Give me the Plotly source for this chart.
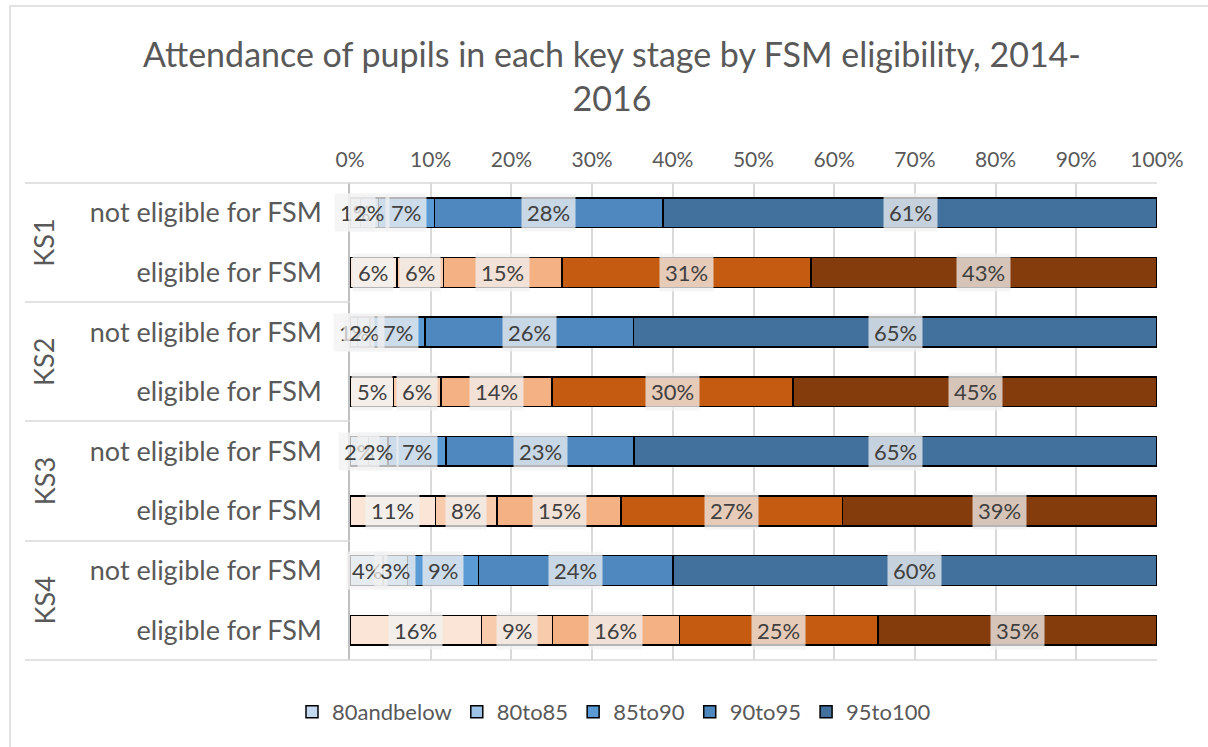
import plotly.graph_objects as go

# ---- data ----
stages = ["KS1", "KS1", "KS2", "KS2", "KS3", "KS3", "KS4", "KS4"]
groups = ["not eligible for FSM", "eligible for FSM"] * 4
series = ["80andbelow", "80to85", "85to90", "90to95", "95to100"]
v80andbelow = [1.3, 5.8, 0.9, 5.4, 2.3, 10.6, 4.1, 16.3]
v80to85 = [2.2, 5.8, 1.6, 5.9, 2.4, 7.6, 3.0, 8.8]
v85to90 = [7.0, 14.7, 6.8, 13.7, 7.2, 15.4, 8.8, 15.7]
v90to95 = [28.3, 30.8, 25.8, 29.9, 23.3, 27.4, 24.1, 24.6]
v95to100 = [61.2, 42.9, 64.9, 45.1, 64.8, 39.0, 60.0, 34.6]
values = [v80andbelow, v80to85, v85to90, v90to95, v95to100]
x_ticks = list(range(0, 101, 10))

blue = ["#C5DAF0", "#9DC3E6", "#5B9BD5", "#4E88BE", "#41719C"]
orange = ["#FBE5D6", "#F8CBAD", "#F4B183", "#C55A11", "#843C0C"]

FONT = "Lato"
TXT = "#595959"

rows = [f"{s} {g}" for s, g in zip(stages, groups)]

fig = go.Figure()
for i, (name, vals) in enumerate(zip(series, values)):
    cols = [blue[i] if g.startswith("not") else orange[i] for g in groups]
    fig.add_trace(go.Bar(
        name=name, y=rows, x=vals, orientation="h",
        marker=dict(color=cols, line=dict(color="black", width=1.5)),
        hoverinfo="x+y",
    ))

# data labels
annotations = []
cum = [0.0] * len(rows)
for i, vals in enumerate(values):
    for r, v in enumerate(vals):
        mid = cum[r] + v / 2
        cum[r] += v
        annotations.append(dict(
            x=mid, y=rows[r], xref="x", yref="y", text=f"{round(v):d}%",
            xanchor="center", yanchor="middle",
            showarrow=False, font=dict(family=FONT, size=22, color="#404040"),
            bgcolor="rgba(242,242,242,0.75)", borderpad=5,
        ))

# key-stage labels
PX_L, PX_R, PX_T, PX_B = 350, 1157, 183, 660
W, H = PX_R - PX_L, PX_B - PX_T
def px(xp):
    return (xp - PX_L) / W
def py(yp):
    return (PX_B - yp) / H

for k, ks in enumerate(["KS1", "KS2", "KS3", "KS4"]):
    annotations.append(dict(
        x=px(44), y=1 - (2 * k + 1) / 8, xref="paper", yref="paper",
        xanchor="center", yanchor="middle",
        text=ks, textangle=-90, showarrow=False,
        font=dict(family=FONT, size=27, color=TXT),
    ))

shapes = []
for yp in [302, 421, 541]:
    shapes.append(dict(type="line", xref="paper", yref="paper",
                       x0=px(25), x1=0, y0=py(yp), y1=py(yp),
                       line=dict(color="#D9D9D9", width=1.5)))
for yp in [183, 660]:
    shapes.append(dict(type="line", xref="paper", yref="paper",
                       x0=px(25), x1=1, y0=py(yp), y1=py(yp),
                       line=dict(color="#D9D9D9", width=1.5)))
# chart border
shapes.append(dict(type="rect", xref="paper", yref="paper",
                   x0=px(10), x1=px(1300), y0=py(800), y1=py(6),
                   line=dict(color="#D9D9D9", width=1.5), layer="below"))

fig.update_layout(
    width=1208, height=747,
    margin=dict(l=PX_L, r=1208 - PX_R, t=PX_T, b=747 - PX_B),
    paper_bgcolor="white", plot_bgcolor="white",
    barmode="stack", bargap=0.5,
    title=dict(text="Attendance of pupils in each key stage by FSM eligibility, 2014-<br>2016",
               x=612 / 1208, xanchor="center", y=1 - 67 / 747, yanchor="middle",
               font=dict(family=FONT, size=34, color=TXT)),
    xaxis=dict(side="top", range=[0, 100], tickvals=x_ticks,
               ticktext=[f"{t}%" for t in x_ticks],
               showgrid=True, gridcolor="#D9D9D9", gridwidth=1.5,
               zeroline=False, showline=False, ticks="",
               ticklabelstandoff=11,
               tickfont=dict(family=FONT, size=21, color=TXT)),
    yaxis=dict(type="category", autorange="reversed", tickvals=rows, ticktext=groups,
               showgrid=False, showline=True, linecolor="#BFBFBF", linewidth=1.5,
               ticks="", ticklabelstandoff=21,
               tickfont=dict(family=FONT, size=27, color=TXT)),
    legend=dict(orientation="h", x=px(614), xanchor="center", y=py(712), yanchor="middle",
                font=dict(family=FONT, size=22, color=TXT), traceorder="normal",
                itemwidth=30),
    annotations=annotations, shapes=shapes,
    font=dict(family=FONT, color=TXT),
)

fig.write_html("out.html", config={"displayModeBar": False},
               post_script="document.body.style.margin='0px';")
